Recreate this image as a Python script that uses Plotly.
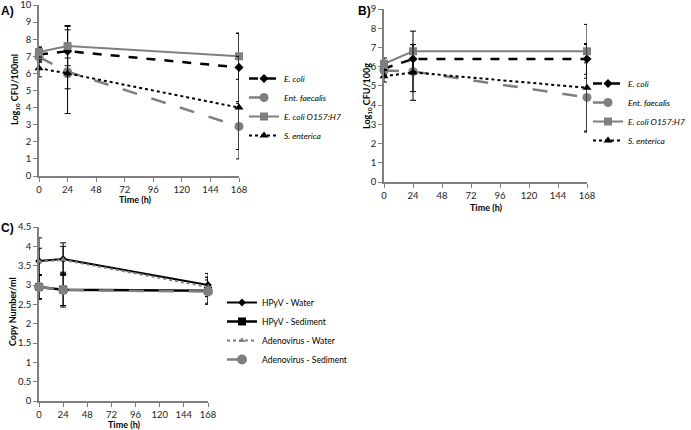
import plotly.graph_objects as go

# Sampling times (h)
hours = [0, 24, 168]
hour_ticks = [0, 24, 48, 72, 96, 120, 144, 168]

# Panel A - water (Log10 CFU/100ml)
a_ecoli = [7.1, 7.3, 6.35]
a_ecoli_err = [0.4, 1.5, 2.0]
a_faecalis = [6.95, 6.1, 2.9]
a_faecalis_err = [0.3, 2.45, 1.35]
a_o157 = [7.25, 7.6, 7.0]
a_o157_err = [0.3, 1.15, 1.35]
a_enterica = [6.3, 6.0, 4.0]
a_enterica_err = [0.5, 0.9, 3.0]

# Panel B - sediment (Log10 CFU/100g)
b_ecoli = [5.9, 6.4, 6.4]
b_ecoli_err = [0.3, 0.75, 0.8]
b_faecalis = [5.8, 5.75, 4.4]
b_faecalis_err = [0.25, 1.05, 1.8]
b_o157 = [6.15, 6.8, 6.8]
b_o157_err = [0.3, 1.05, 1.4]
b_enterica = [5.5, 5.7, 4.9]
b_enterica_err = [0.3, 1.45, 2.25]

# Panel C - viruses (copy number/ml)
c_hpyv_water = [3.62, 3.67, 3.0]
c_hpyv_water_err = [0.6, 0.42, 0.3]
c_hpyv_sed = [2.95, 2.88, 2.85]
c_hpyv_sed_err = [0.32, 0.45, 0.35]
c_adv_water = [3.6, 3.65, 2.95]
c_adv_water_err = [0.35, 0.35, 0.25]
c_adv_sed = [2.95, 2.87, 2.83]
c_adv_sed_err = [0.3, 0.4, 0.3]

W, H = 691, 430
FONT = "Lato"
GRAY = "#7f7f7f"

fig = go.Figure()


def add_series(x, y, err, name, color, dash, width, symbol, msize, xa, ya, legend):
    fig.add_trace(
        go.Scatter(
            x=x,
            y=y,
            mode="lines+markers",
            name=name,
            line=dict(color=color, dash=dash, width=width),
            marker=dict(symbol=symbol, size=msize, color=color),
            error_y=dict(type="data", array=err, color="black", thickness=1, width=3),
            xaxis=xa,
            yaxis=ya,
            legend=legend,
            cliponaxis=False,
        )
    )


# Panel A
add_series(hours, a_ecoli, a_ecoli_err, "E. coli", "black", "dash", 2.5, "diamond", 7, "x", "y", "legend")
add_series(hours, a_faecalis, a_faecalis_err, "Ent. faecalis", GRAY, "longdash", 2.5, "circle", 9, "x", "y", "legend")
add_series(hours, a_o157, a_o157_err, "E. coli O157:H7", GRAY, "solid", 2, "square", 8, "x", "y", "legend")
add_series(hours, a_enterica, a_enterica_err, "S. enterica", "black", "dot", 2, "triangle-up", 8, "x", "y", "legend")

# Panel B
add_series(hours, b_ecoli, b_ecoli_err, "E. coli", "black", "dash", 2.5, "diamond", 7, "x2", "y2", "legend2")
add_series(hours, b_faecalis, b_faecalis_err, "Ent. faecalis", GRAY, "longdash", 2.5, "circle", 9, "x2", "y2", "legend2")
add_series(hours, b_o157, b_o157_err, "E. coli O157:H7", GRAY, "solid", 2, "square", 8, "x2", "y2", "legend2")
add_series(hours, b_enterica, b_enterica_err, "S. enterica", "black", "dot", 2, "triangle-up", 8, "x2", "y2", "legend2")

# Panel C
add_series(hours, c_hpyv_water, c_hpyv_water_err, "HPyV - Water", "black", "solid", 2, "diamond", 6, "x3", "y3", "legend3")
add_series(hours, c_hpyv_sed, c_hpyv_sed_err, "HPyV - Sediment", "black", "solid", 2.5, "square", 8, "x3", "y3", "legend3")
add_series(hours, c_adv_water, c_adv_water_err, "Adenovirus - Water", GRAY, "dot", 2, "triangle-up", 6, "x3", "y3", "legend3")
add_series(hours, c_adv_sed, c_adv_sed_err, "Adenovirus - Sediment", GRAY, "longdash", 2.5, "circle", 10, "x3", "y3", "legend3")

tickfont = dict(family=FONT, size=9.5, color="#222")


def xaxis(domain, anchor):
    return dict(
        domain=domain, anchor=anchor, range=[0, 168], tickvals=hour_ticks,
        showline=True, linecolor=GRAY, linewidth=1.5, ticks="outside",
        ticklen=4, tickcolor=GRAY, showgrid=False, zeroline=False,
        tickfont=tickfont, automargin=False, ticklabeloverflow="allow",
    )


def yaxis(domain, anchor, rng, dtick):
    return dict(
        domain=domain, anchor=anchor, range=rng, dtick=dtick,
        showline=True, linecolor=GRAY, linewidth=1.5, ticks="outside",
        ticklen=4, tickcolor=GRAY, showgrid=False, zeroline=False,
        tickfont=tickfont, automargin=False, ticklabeloverflow="allow",
    )


def legend(px, py, italic):
    return dict(
        x=px / W, y=1 - py / H, xanchor="left", yanchor="top",
        bgcolor="rgba(0,0,0,0)", tracegroupgap=0, itemwidth=30,
        font=dict(family=FONT, size=8.5, color="black",
                  style="italic" if italic else "normal"),
    )


def label(text, px, py, angle=0, size=9, family=FONT):
    return dict(
        text=text, x=px / W, y=1 - py / H, xref="paper", yref="paper",
        xanchor="center", yanchor="middle", showarrow=False, textangle=angle,
        font=dict(family=family, size=size, color="black"),
    )


fig.update_layout(
    width=W,
    height=H,
    margin=dict(l=0, r=0, t=0, b=0),
    plot_bgcolor="white",
    paper_bgcolor="white",
    xaxis=xaxis([39 / W, 239 / W], "y"),
    yaxis=yaxis([1 - 176 / H, 1 - 5 / H], "x", [0, 10], 1),
    xaxis2=xaxis([384 / W, 587 / W], "y2"),
    yaxis2=yaxis([1 - 182 / H, 1 - 9 / H], "x2", [0, 9], 1),
    xaxis3=xaxis([39 / W, 208 / W], "y3"),
    yaxis3=yaxis([1 - 401 / H, 1 - 227 / H], "x3", [0, 4.5], 0.5),
    legend=legend(244, 64, True),
    legend2=legend(588, 69, True),
    legend3=legend(222, 288, False),
    annotations=[
        label("<b>A)</b>", 8, 11, size=12, family="Liberation Sans"),
        label("<b>B)</b>", 364, 11, size=12, family="Liberation Sans"),
        label("<b>C)</b>", 8, 228, size=12, family="Liberation Sans"),
        label("<b>Log<sub>10</sub> CFU/100ml</b>", 15, 90, angle=-90),
        label("<b>Time (h)</b>", 135, 200),
        label("<b>Log<sub>10</sub> CFU/100g</b>", 367, 96, angle=-90),
        label("<b>Time (h)</b>", 487, 207),
        label("<b>Copy Number/ml</b>", 12, 312, angle=-90),
        label("<b>Time (h)</b>", 124, 424),
    ],
)

# page body has a default margin; drop it so the figure sits at the window corner
fig.write_html(
    "out.html",
    config={"displayModeBar": False},
    post_script="document.body.style.margin = '0px';",
)
